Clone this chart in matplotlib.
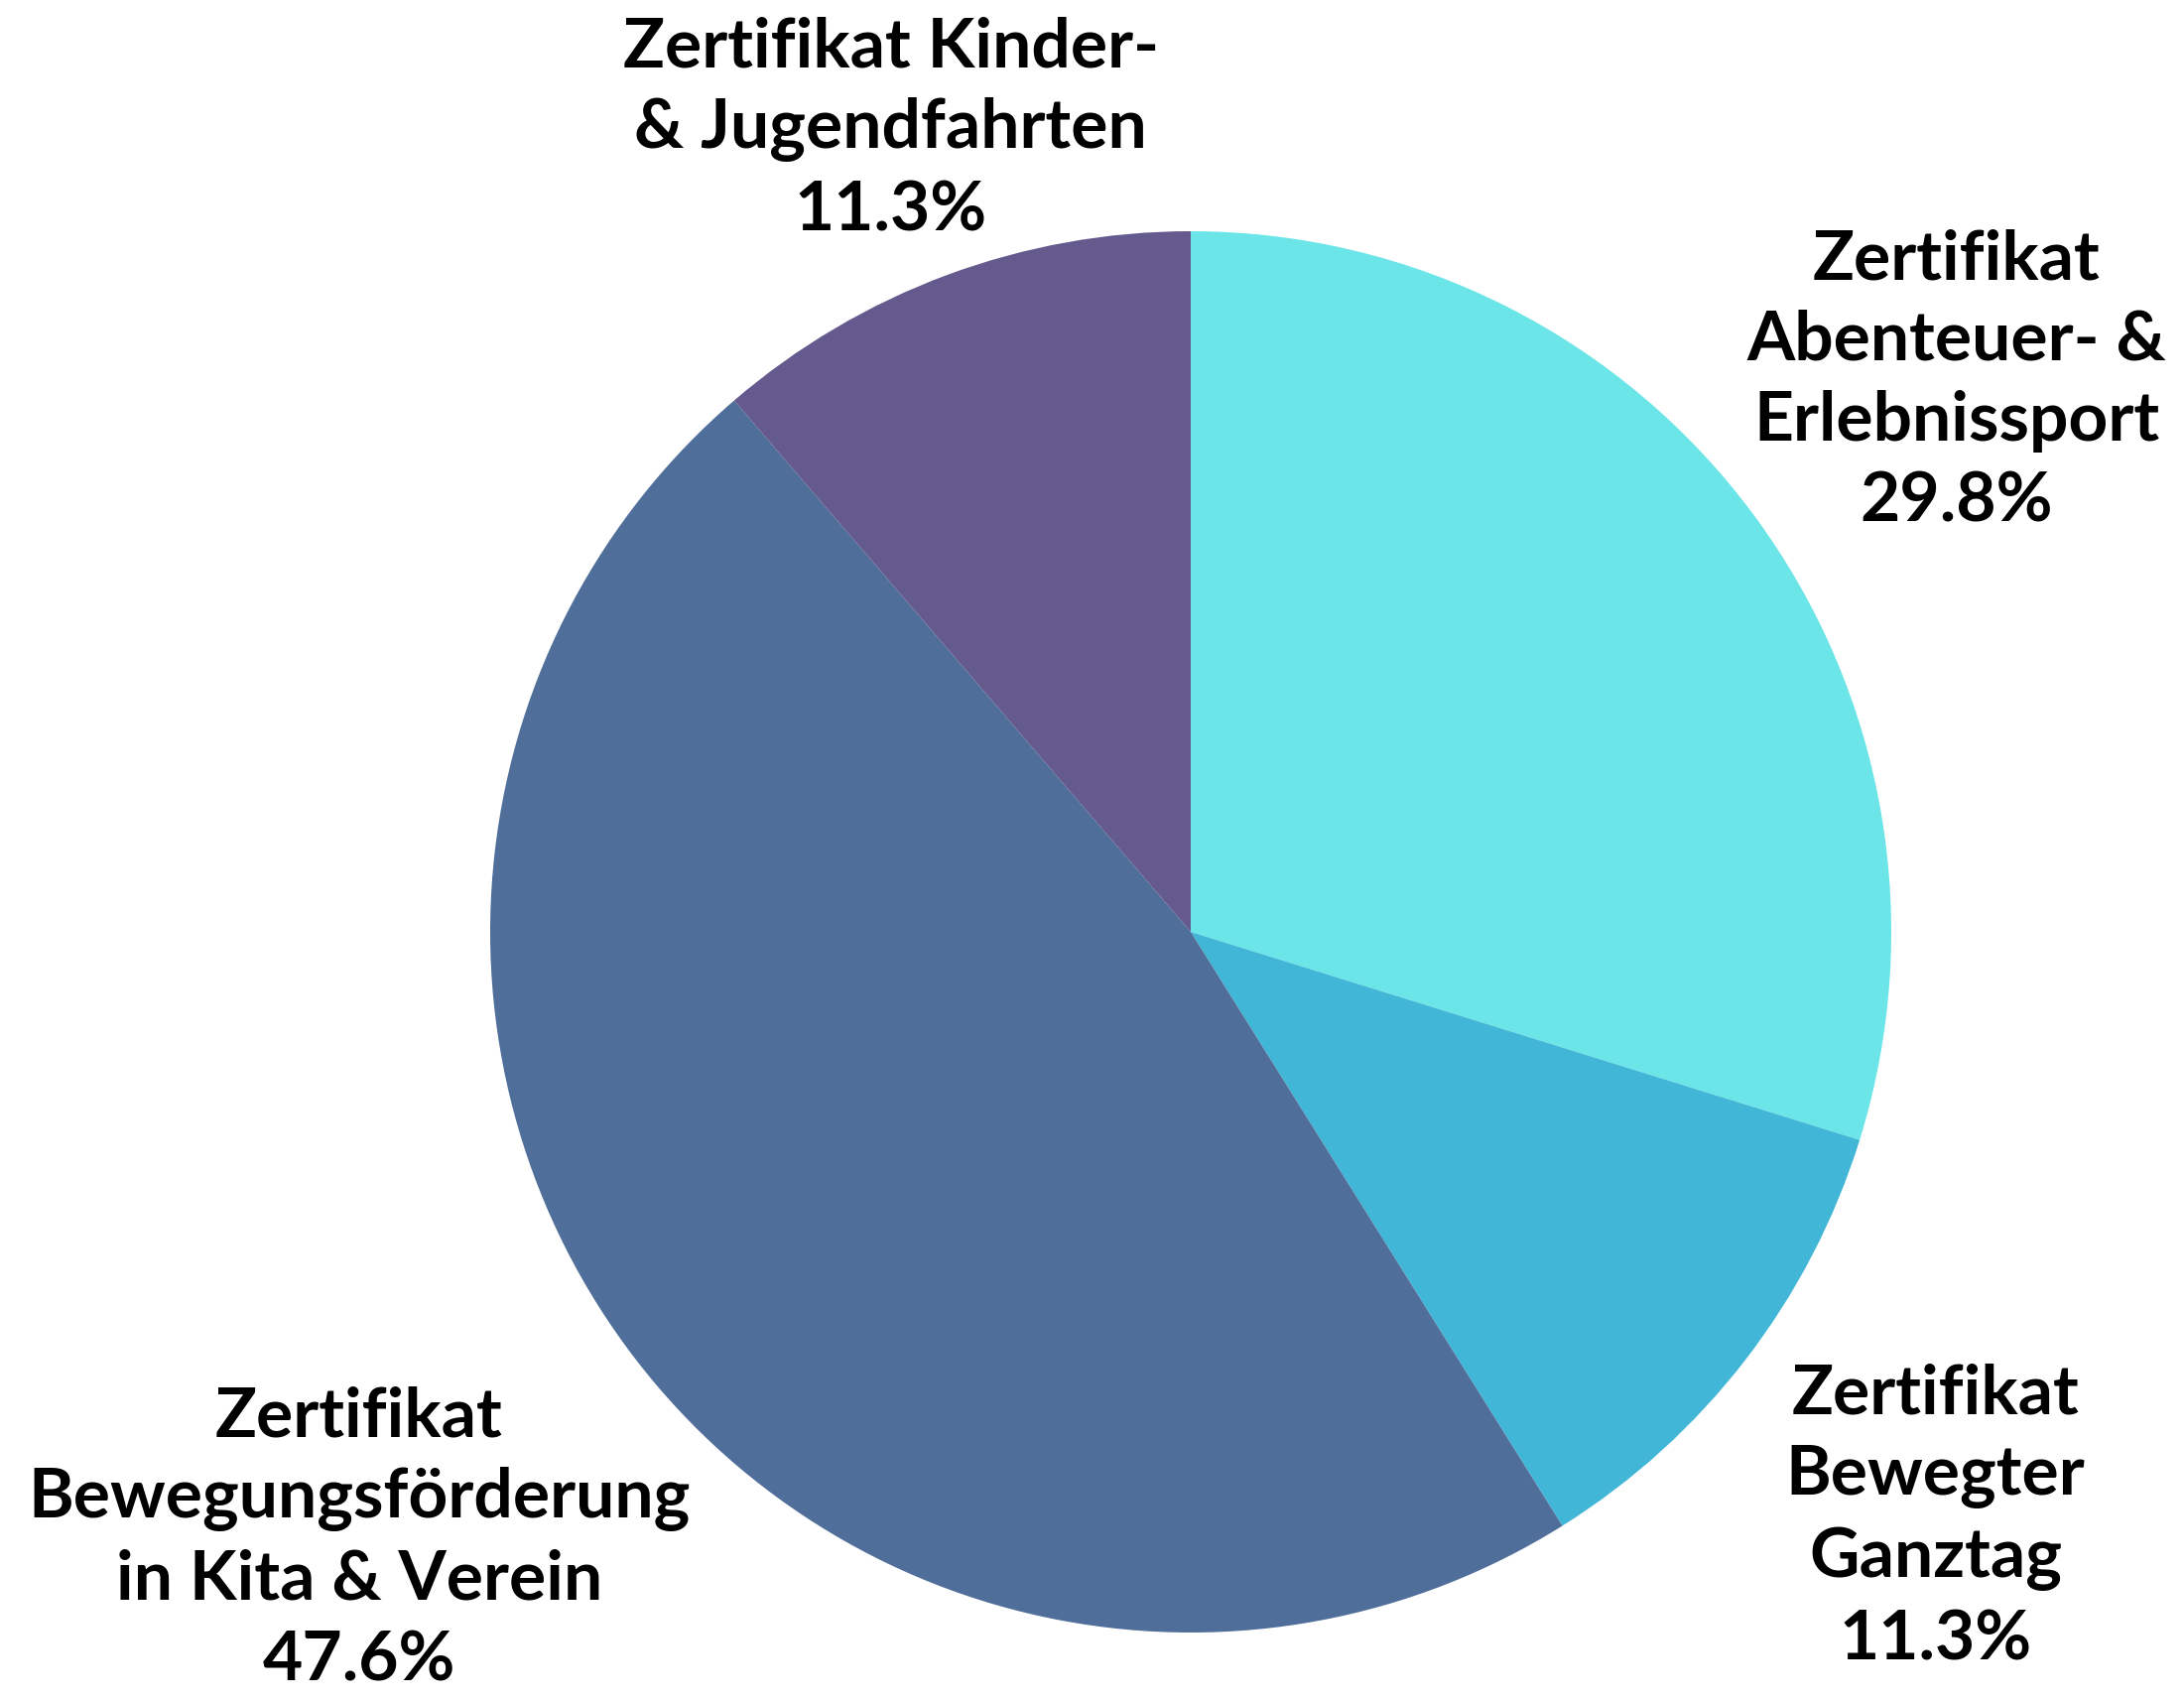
import matplotlib
matplotlib.use("Agg")
import matplotlib.pyplot as plt

# Daten
labels = ["Zertifikat\nAbenteuer- &\nErlebnissport",
          "Zertifikat\nBewegter\nGanztag",
          "Zertifikat\nBewegungsförderung\nin Kita & Verein",
          "Zertifikat Kinder-\n& Jugendfahrten"]
shares = [29.8, 11.3, 47.6, 11.3]
colors = ["#6CE5E8", "#42B6D6", "#4F6E9A", "#645A8E"]

# Label-Positionen (Datenkoordinaten, Radius = 1)
label_pos = [(1.093, 0.788), (1.063, -0.834), (-1.187, -0.865), (-0.428, 1.147)]

plt.rcParams['font.family'] = ['Lato', 'DejaVu Sans']

W, H = 2201, 1715
fig = plt.figure(figsize=(W / 100, H / 100), dpi=100)
cx, cy, r = 1200, 940, 706
ax = fig.add_axes([(cx - r) / W, (H - cy - r) / H, 2 * r / W, 2 * r / H])

ax.pie(shares, colors=colors, startangle=90, counterclock=False, radius=1,
       wedgeprops=dict(linewidth=0))
ax.set_xlim(-1, 1)
ax.set_ylim(-1, 1)
ax.set_aspect("equal")
ax.axis("off")

for lab, val, (x, y) in zip(labels, shares, label_pos):
    ax.text(x, y, f"{lab}\n{val:.1f}%", ha="center", va="center",
            fontsize=50, fontweight="bold", linespacing=1.36, color="black")

fig.savefig("out.png", dpi=100, facecolor="white")
